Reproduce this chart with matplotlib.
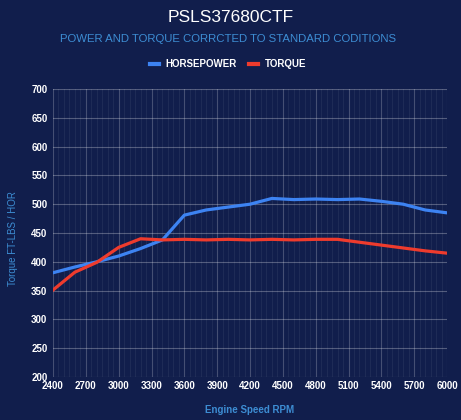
import matplotlib
matplotlib.use("Agg")
import matplotlib.pyplot as plt
from matplotlib.ticker import MultipleLocator

plt.rcParams['font.family'] = ['Liberation Sans', 'DejaVu Sans']

title = "PSLS37680CTF"
subtitle = "POWER AND TORQUE CORRCTED TO STANDARD CODITIONS"
x_label = "Engine Speed RPM"
y_label = "Torque FT-LBS / HOR"
series_names = ["HORSEPOWER", "TORQUE"]

rpm = [2400, 2600, 2800, 3000, 3200, 3400, 3600, 3800, 4000, 4200,
       4400, 4600, 4800, 5000, 5200, 5400, 5600, 5800, 6000]
horsepower = [381, 391, 400, 410, 423, 438, 481, 490, 495, 500,
              510, 508, 509, 508, 509, 505, 500, 490, 485]
torque = [351, 382, 399, 425, 440, 438, 439, 438, 439, 438,
          439, 438, 439, 439, 434, 429, 424, 419, 415]
x_ticks = [2400, 2700, 3000, 3300, 3600, 3900, 4200, 4500, 4800, 5100, 5400, 5700, 6000]
y_ticks = [200, 250, 300, 350, 400, 450, 500, 550, 600, 650, 700]

BG = "#111e4c"
BLUE = "#3d83f2"
RED = "#ee3b2d"
LIGHT = "#3d8dd3"

W, H = 461, 420
fig = plt.figure(figsize=(W / 100, H / 100), dpi=100, facecolor=BG)
ax = fig.add_axes([53 / W, 1 - 377 / H, (447 - 53) / W, (377 - 89) / H])
ax.set_facecolor(BG)

ax.plot(rpm, horsepower, color=BLUE, lw=2.3, solid_joinstyle='round', zorder=3)
ax.plot(rpm, torque, color=RED, lw=2.3, solid_joinstyle='round', zorder=3)

ax.set_xlim(2400, 6000)
ax.set_ylim(200, 700)
ax.set_xticks(x_ticks)
ax.set_yticks(y_ticks)
ax.xaxis.set_minor_locator(MultipleLocator(50))
ax.grid(which='major', axis='y', color='white', alpha=0.28, lw=0.8)
ax.grid(which='major', axis='x', color='white', alpha=0.22, lw=0.8)
ax.grid(which='minor', axis='x', color='white', alpha=0.06, lw=0.8)
for s in ax.spines.values():
    s.set_visible(False)
ax.tick_params(axis='both', which='both', length=0, colors='white', labelsize=7)
ax.tick_params(axis='x', pad=3)
ax.tick_params(axis='y', pad=4)
for lbl in ax.get_xticklabels() + ax.get_yticklabels():
    lbl.set_fontweight('bold')

fig.text(0.5, 1 - 17 / H, title, ha='center', va='center', color='white', fontsize=12.5)
fig.text(228 / W, 1 - 39 / H, subtitle, ha='center', va='center', color=LIGHT, fontsize=8.2)

# legend
ly = 1 - 64 / H
fig.add_artist(plt.Line2D([150 / W, 159 / W], [ly, ly], color=BLUE, lw=3, transform=fig.transFigure))
fig.text(165 / W, ly, series_names[0], ha='left', va='center', color='white', fontsize=7, fontweight='bold')
fig.add_artist(plt.Line2D([249 / W, 258 / W], [ly, ly], color=RED, lw=3, transform=fig.transFigure))
fig.text(265 / W, ly, series_names[1], ha='left', va='center', color='white', fontsize=7, fontweight='bold')

fig.text(250 / W, 1 - 410 / H, x_label, ha='center', va='center', color=LIGHT, fontsize=7, fontweight='bold')
fig.text(13 / W, 1 - 239 / H, y_label, ha='center', va='center', rotation=90, color=LIGHT, fontsize=7)

fig.savefig("out.png", dpi=100, facecolor=BG)
